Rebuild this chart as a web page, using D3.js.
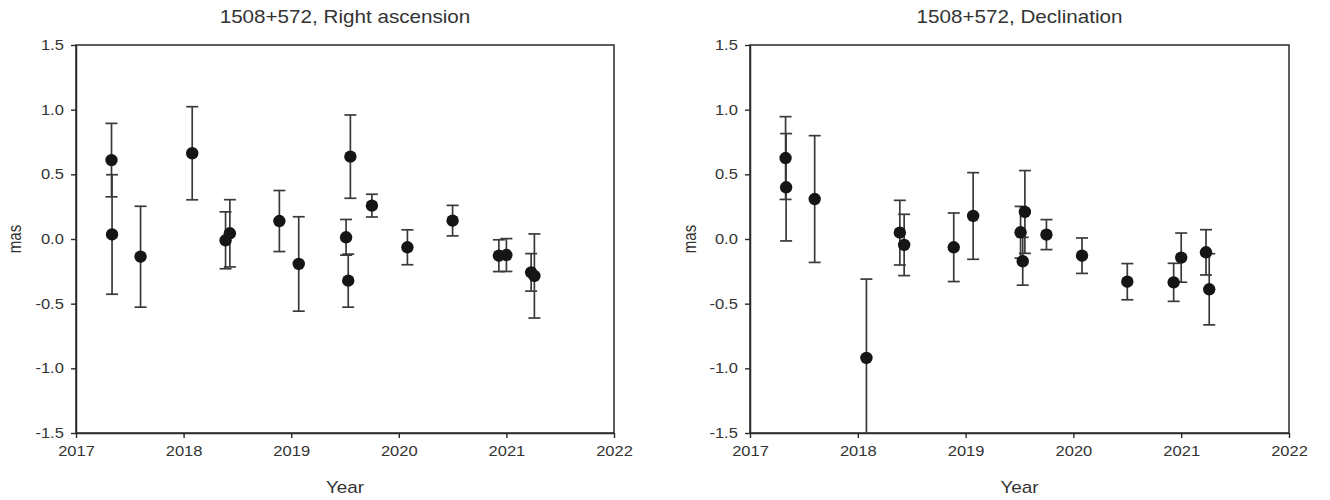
<!DOCTYPE html>
<html>
<head>
<meta charset="utf-8">
<script src="https://cdn.jsdelivr.net/npm/d3@7"></script>
<style>
  html, body { margin: 0; padding: 0; background: #fff; }
  text { font-family: "Liberation Sans", Arial, sans-serif; fill: #333; }
</style>
</head>
<body>
<svg id="chart" width="1330" height="500"></svg>
<script>
// ---- Data ----
const epochs = [2017.33, 2017.335, 2017.60, 2018.08, 2018.39, 2018.43, 2018.89, 2019.07,
                2019.51, 2019.53, 2019.55, 2019.75, 2020.08, 2020.50, 2020.93, 2021.00,
                2021.23, 2021.26];
const raValues = [0.61, 0.035, -0.137, 0.663, -0.01, 0.044, 0.139, -0.193,
                  0.013, -0.322, 0.637, 0.258, -0.064, 0.142, -0.129, -0.124,
                  -0.258, -0.286];
const raErrors = [0.284, 0.462, 0.39, 0.36, 0.22, 0.26, 0.236, 0.365,
                  0.138, 0.205, 0.322, 0.088, 0.135, 0.118, 0.123, 0.127,
                  0.145, 0.325];
const decValues = [0.626, 0.40, 0.309, -0.92, 0.049, -0.046, -0.064, 0.178,
                   0.052, -0.172, 0.209, 0.034, -0.129, -0.33, -0.335, -0.144,
                   -0.103, -0.389];
const decErrors = [0.32, 0.415, 0.49, 0.61, 0.25, 0.237, 0.265, 0.335,
                   0.2, 0.185, 0.32, 0.116, 0.137, 0.14, 0.147, 0.19,
                   0.175, 0.275];
const xTicks = [2017, 2018, 2019, 2020, 2021, 2022];
const xTickLabels = ["2017", "2018", "2019", "2020", "2021", "2022"];
const yTicks = [-1.5, -1.0, -0.5, 0.0, 0.5, 1.0, 1.5];
const yTickLabels = ["-1.5", "-1.0", "-0.5", "0.0", "0.5", "1.0", "1.5"];
const titles = ["1508+572, Right ascension", "1508+572, Declination"];
const xLabel = "Year";
const yLabel = "mas";

// ---- Layout ----
const svg = d3.select("#chart");
svg.append("rect").attr("width", 1330).attr("height", 500).attr("fill", "#fff");

const panels = [
  { left: 76, right: 614, values: raValues, errors: raErrors, title: titles[0], ylabX: 21 },
  { left: 750, right: 1289, values: decValues, errors: decErrors, title: titles[1], ylabX: 696 }
];
const plotTop = 45, plotBottom = 433;
const stretch = "scale(1.18,1)";

panels.forEach((p, i) => {
  const x = d3.scaleLinear().domain([2017, 2022]).range([p.left, p.right]);
  const y = d3.scaleLinear().domain([-1.5, 1.5]).range([plotBottom, plotTop]);
  const g = svg.append("g");

  // clip
  const clipId = "clip" + i;
  svg.append("clipPath").attr("id", clipId)
    .append("rect").attr("x", p.left).attr("y", plotTop)
    .attr("width", p.right - p.left).attr("height", plotBottom - plotTop);

  // frame
  g.append("rect")
    .attr("x", p.left).attr("y", plotTop)
    .attr("width", p.right - p.left).attr("height", plotBottom - plotTop)
    .attr("fill", "none").attr("stroke", "#2a2a2a").attr("stroke-width", 1.5);

  // axes
  const xAxis = d3.axisBottom(x).tickValues(xTicks)
    .tickFormat((d, j) => xTickLabels[j]).tickSize(5).tickPadding(8.5).tickSizeOuter(0);
  const yAxis = d3.axisLeft(y).tickValues(yTicks)
    .tickFormat((d, j) => yTickLabels[j]).tickSize(5).tickPadding(5.3).tickSizeOuter(0);

  const gx = g.append("g").attr("transform", `translate(0,${plotBottom})`).call(xAxis);
  const gy = g.append("g").attr("transform", `translate(${p.left},0)`).call(yAxis);
  [gx, gy].forEach(ax => {
    ax.select(".domain").attr("stroke", "#2a2a2a").attr("stroke-width", 1.5);
    ax.selectAll(".tick line").attr("stroke", "#2a2a2a").attr("stroke-width", 1.4);
    ax.selectAll(".tick text")
      .attr("font-family", "'Liberation Sans', Arial, sans-serif")
      .attr("font-size", 14).attr("fill", "#3a3a3a")
      .attr("transform", stretch);
  });

  // error bars
  const eb = g.append("g").attr("clip-path", `url(#${clipId})`);
  const idx = d3.range(epochs.length);
  eb.selectAll("line.v").data(idx).join("line").attr("class", "v")
    .attr("x1", j => x(epochs[j])).attr("x2", j => x(epochs[j]))
    .attr("y1", j => y(p.values[j] + p.errors[j]))
    .attr("y2", j => y(p.values[j] - p.errors[j]))
    .attr("stroke", "#3a3a3a").attr("stroke-width", 1.7);
  const caps = [];
  idx.forEach(j => { caps.push([j, 1]); caps.push([j, -1]); });
  eb.selectAll("line.cap").data(caps).join("line").attr("class", "cap")
    .attr("x1", c => x(epochs[c[0]]) - 6).attr("x2", c => x(epochs[c[0]]) + 6)
    .attr("y1", c => y(p.values[c[0]] + c[1] * p.errors[c[0]]))
    .attr("y2", c => y(p.values[c[0]] + c[1] * p.errors[c[0]]))
    .attr("stroke", "#3a3a3a").attr("stroke-width", 1.7);

  // points
  g.append("g").selectAll("circle").data(idx).join("circle")
    .attr("cx", j => x(epochs[j])).attr("cy", j => y(p.values[j]))
    .attr("r", 6.2).attr("fill", "#151515");

  // title
  const cx = (p.left + p.right) / 2;
  svg.append("text")
    .attr("transform", `translate(${cx},23) ${stretch}`)
    .attr("text-anchor", "middle").attr("font-size", 17.5).attr("fill", "#333")
    .text(p.title);

  // x label
  svg.append("text")
    .attr("transform", `translate(${cx},493) ${stretch}`)
    .attr("text-anchor", "middle").attr("font-size", 16).attr("fill", "#333")
    .text(xLabel);

  // y label
  svg.append("text")
    .attr("transform", `translate(${p.ylabX},${(plotTop + plotBottom) / 2}) rotate(-90) scale(1,1.18)`)
    .attr("text-anchor", "middle").attr("font-size", 15).attr("fill", "#333")
    .text(yLabel);
});
</script>
</body>
</html>
